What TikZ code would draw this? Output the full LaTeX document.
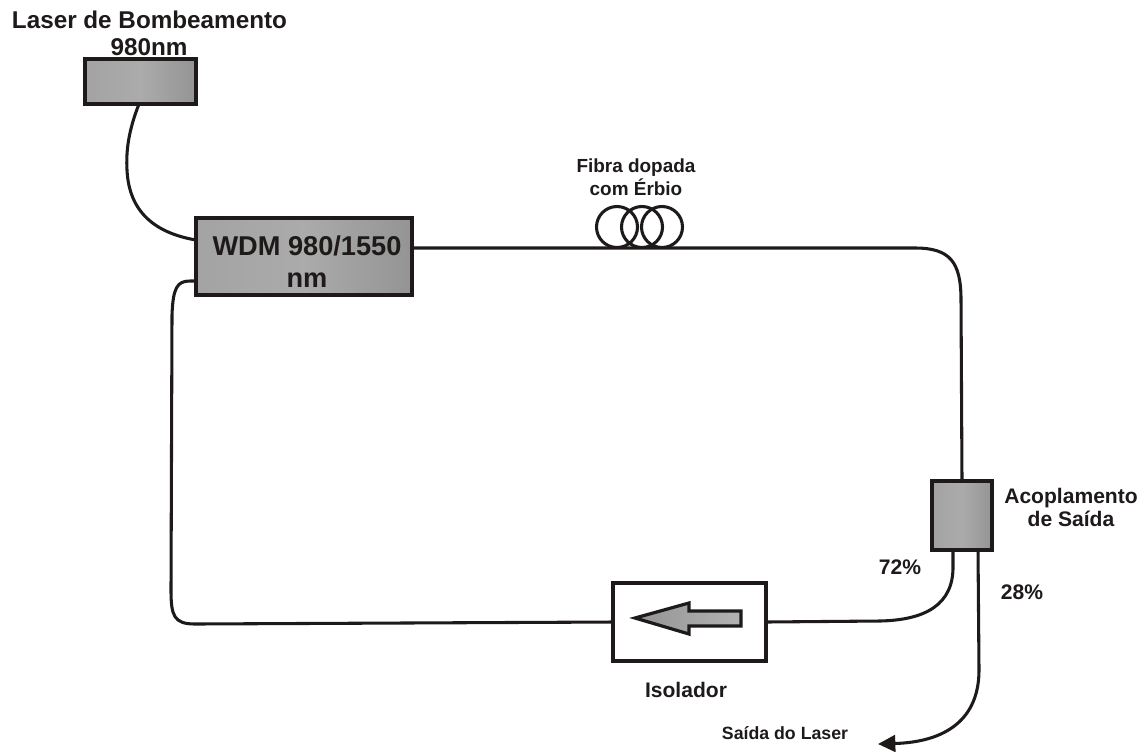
\documentclass[tikz,border=0pt]{standalone}
\usepackage{fontspec}
\setmainfont{Liberation Sans}
\usetikzlibrary{arrows.meta,calc}
\definecolor{inkc}{HTML}{1E1A1A}
\tikzset{
  px/.style={x=0.75pt,y=-0.75pt},
  fiber/.style={draw=inkc,line width=2.3pt,line cap=round},
  graybox/.style={draw=inkc,line width=2.5pt,left color=black!36,right color=black!42,middle color=black!33,inner sep=0pt,outer sep=0pt,rectangle,anchor=north west},
  whitebox/.style={draw=inkc,line width=2.4pt,fill=white,inner sep=0pt,outer sep=0pt,rectangle,anchor=north west},
  lab/.style={text=inkc,font=\bfseries\fontsize{18.2}{20}\selectfont,align=center,inner sep=0pt},
  biglab/.style={text=inkc,font=\bfseries\fontsize{20.4}{24}\selectfont,align=center,inner sep=0pt},
  midlab/.style={text=inkc,font=\bfseries\fontsize{15.8}{17.3}\selectfont,align=center,inner sep=0pt},
  smalllab/.style={text=inkc,font=\bfseries\fontsize{14.2}{17.3}\selectfont,align=center,inner sep=0pt},
}
\begin{document}
\begin{tikzpicture}[px]
\useasboundingbox (0,0) rectangle (1148,751);
% boxes
\node[graybox,minimum width=83.25pt,minimum height=33.75pt] (laser) at (85,59) {};
\node[graybox,minimum width=162pt,minimum height=57.75pt] (wdm) at (196,218) {};
\node[graybox,minimum width=45pt,minimum height=51.75pt] (coupler) at (932,481) {};
\node[whitebox,minimum width=114.75pt,minimum height=58.5pt] (iso) at (613,583) {};
% named ends of connectors
\coordinate (laserOut) at (139,104);
\coordinate (wdmIn) at (196,240);
\coordinate (wdmRet) at (196,281);
\coordinate (wdmOut) at (412,248);
\coordinate (coupIn) at (962,481);
\coordinate (coup72) at (953,550);
\coordinate (coup28) at (978,550);
\coordinate (isoL) at (613,622);
\coordinate (isoR) at (766,622);
\coordinate (outEnd) at (878,744);
% connectors
\draw[fiber] (laserOut) .. controls (128,132) and (126,152) .. (127,170)
   .. controls (129,212) and (155,233) .. (wdmIn);
\draw[fiber] (wdmOut) -- (915,248) .. controls (950,248) and (961,262) .. (961,300) -- (coupIn);
\draw[fiber] (wdmRet) -- (190,281) .. controls (177,281) and (173,288) .. (172,315)
   -- (171,590) .. controls (171,616) and (174,624) .. (195,624) -- (isoL);
\draw[fiber] (coup72) -- (953,565) .. controls (954,605) and (925,620) .. (880,621) -- (isoR);
\draw[fiber,-{Triangle[length=13pt,width=12.5pt]}] (coup28) -- (979,670)
   .. controls (979,720) and (945,742) .. (outEnd);
% fibre coil
\draw[fiber] (617,227) circle[radius=20.5];
\draw[fiber] (642,227) circle[radius=20.5];
\draw[fiber] (662,227) circle[radius=20.5];
% isolator arrow
\draw[draw=inkc,line width=2.4pt,line join=miter,left color=black!42,right color=black!30]
  (635,618) -- (689,603) -- (689,611) -- (741,611) -- (741,626) -- (689,626) -- (689,634) -- cycle;
% labels
\node[lab] (tLaser) at (149.5,20) {Laser de Bombeamento};
\node[lab] (tLaser2) at (149,47) {980nm};
\node[biglab] (tWdm) at (307,262) {WDM 980/1550\\nm};
\node[smalllab] (tFibra) at (636,177) {Fibra dopada\\com Érbio};
\node[midlab] (tAcop) at (1071,507) {Acoplamento\\de Saída};
\node[midlab] (t72) at (900,567) {72\%};
\node[midlab] (t28) at (1022,592) {28\%};
\node[midlab] (tIso) at (686,690) {Isolador};
\node[smalllab,font=\bfseries\fontsize{13.3}{16}\selectfont] (tSaida) at (785,733) {Saída do Laser};
\end{tikzpicture}
\end{document}
